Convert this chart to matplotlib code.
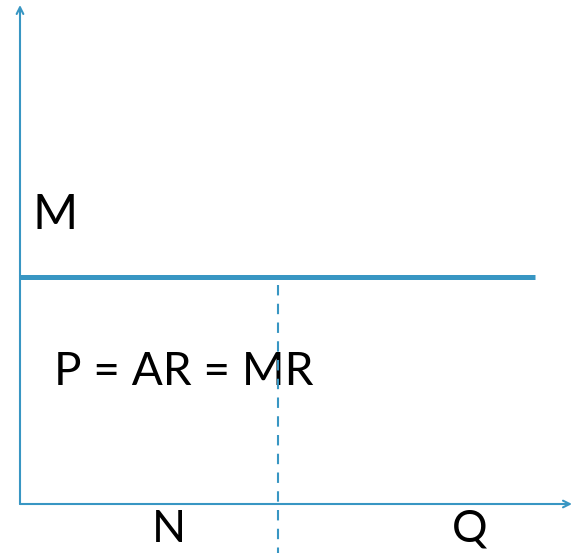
import matplotlib
matplotlib.use("Agg")
import matplotlib.pyplot as plt

# price level of the horizontal demand line and the quantity marked by the dashed line
price_level = [227]
quantity = [258]
x_max = [552]
y_max = [499]
line_end = [515]
labels = ["M", "P = AR = MR", "N", "Q"]

blue = "#3896c3"

fig = plt.figure(figsize=(5.73, 5.53), dpi=100)
ax = fig.add_axes([0, 0, 1, 1])
ax.set_xlim(-20, 553)
ax.set_ylim(-49, 504)
ax.axis("off")

# axes with open arrowheads
ax.annotate("", xy=(0, y_max[0]), xytext=(0, 0),
            arrowprops=dict(arrowstyle="->", color=blue, lw=1.5, shrinkA=0, shrinkB=0,
                            mutation_scale=12))
ax.annotate("", xy=(x_max[0], 0), xytext=(0, 0),
            arrowprops=dict(arrowstyle="->", color=blue, lw=1.5, shrinkA=0, shrinkB=0,
                            mutation_scale=12))

# demand line
ax.plot([0, line_end[0]], [price_level[0], price_level[0]], color=blue, lw=3.6,
        solid_capstyle="butt")

# dashed quantity line, drawn above the labels
ax.plot([quantity[0], quantity[0]], [price_level[0] - 8, -49], color=blue, lw=1.5,
        linestyle=(0, (5, 4)), zorder=5)

font = dict(family="Lato", color="black", va="baseline", ha="center")
ax.text(35, 275, labels[0], fontsize=35, **font)
ax.text(164, 119, labels[1], fontsize=33, **font)
ax.text(149, -38, labels[2], fontsize=32, **font)
ax.text(450, -38, labels[3], fontsize=32, **font)

fig.savefig("out.png", dpi=100)
